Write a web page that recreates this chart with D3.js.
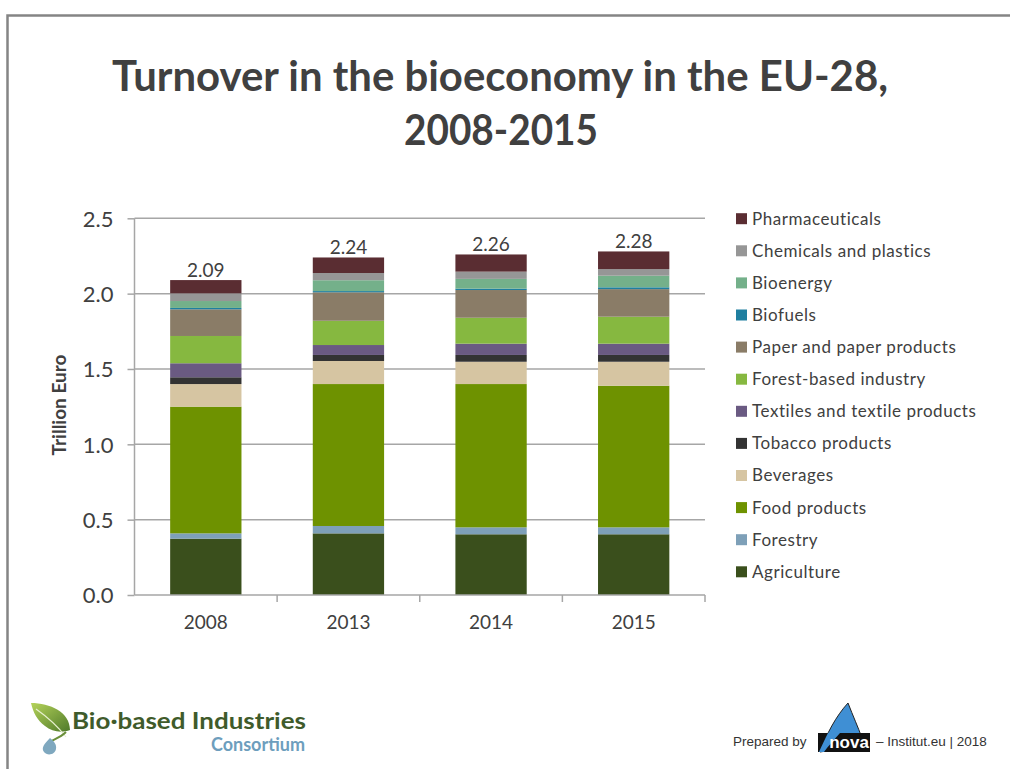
<!DOCTYPE html>
<html>
<head>
<meta charset="utf-8">
<script src="https://cdn.jsdelivr.net/npm/d3@7"></script>
<style>
  body { margin: 0; background: #fff; }
  svg { display: block; font-family: Lato, "Open Sans", sans-serif; }
</style>
</head>
<body>
<div class="js-vis"></div>
<script>
"use strict";

// Data (trillion euro)
var years = ["2008", "2013", "2014", "2015"];
var sectors = ["Agriculture", "Forestry", "Food products", "Beverages", "Tobacco products",
  "Textiles and textile products", "Forest-based industry", "Paper and paper products",
  "Biofuels", "Bioenergy", "Chemicals and plastics", "Pharmaceuticals"];
var agriculture = [0.374, 0.409, 0.403, 0.403],
    forestry = [0.035, 0.049, 0.046, 0.046],
    food = [0.841, 0.942, 0.951, 0.940],
    beverages = [0.150, 0.153, 0.148, 0.159],
    tobacco = [0.045, 0.040, 0.045, 0.045],
    textiles = [0.093, 0.066, 0.075, 0.075],
    forestBased = [0.181, 0.161, 0.172, 0.179],
    paper = [0.177, 0.189, 0.184, 0.183],
    biofuels = [0.009, 0.008, 0.009, 0.012],
    bioenergy = [0.046, 0.072, 0.065, 0.077],
    chemicals = [0.051, 0.048, 0.048, 0.044],
    pharma = [0.088, 0.103, 0.114, 0.117];
var colors = ["#3a4f1c", "#7ea0b8", "#6e9200", "#d6c5a2", "#333333", "#6a5a82",
  "#86b840", "#8a7c67", "#1f7fa0", "#74b08a", "#969696", "#5a2d32"];
var yTicks = [0, 0.5, 1.0, 1.5, 2.0, 2.5];

var seriesValues = [agriculture, forestry, food, beverages, tobacco, textiles,
  forestBased, paper, biofuels, bioenergy, chemicals, pharma];

var table = years.map(function (y, i) {
  var row = { year: y };
  sectors.forEach(function (s, k) { row[s] = seriesValues[k][i]; });
  return row;
});

var W = 1010, H = 769;
var svg = d3.select(".js-vis").append("svg").attr("width", W).attr("height", H);

// frame
svg.append("path").attr("d", "M7.5,769V15.5H1010")
  .attr("fill", "none").attr("stroke", "#858585").attr("stroke-width", 2.5);

// title
var title = svg.append("g").attr("fill", "#404040").attr("font-weight", 700)
  .attr("font-size", 42).attr("text-anchor", "middle");
title.append("text").attr("x", 500).attr("y", 91).attr("textLength", 776)
  .attr("lengthAdjust", "spacingAndGlyphs").text("Turnover in the bioeconomy in the EU-28,");
title.append("text").attr("x", 501).attr("y", 145).attr("textLength", 194)
  .attr("lengthAdjust", "spacingAndGlyphs").text("2008-2015");

var x = d3.scaleBand().domain(years).range([134.5, 705]).paddingInner(0.5).paddingOuter(0.25);
var y = d3.scaleLinear().domain([0, 2.5]).range([595, 218.3]);

// gridlines
svg.append("g").selectAll("line").data(yTicks.slice(1)).enter().append("line")
  .attr("x1", 134.5).attr("x2", 705)
  .attr("y1", function (d) { return y(d); }).attr("y2", function (d) { return y(d); })
  .attr("stroke", "#a6a6a6").attr("stroke-width", 1.5);

var stack = d3.stack().keys(sectors);
var layers = stack(table);

svg.append("g").selectAll("g").data(layers).enter().append("g")
  .attr("fill", function (d, i) { return colors[i]; })
  .selectAll("rect").data(function (d) { return d; }).enter().append("rect")
  .attr("x", function (d) { return x(d.data.year); })
  .attr("width", x.bandwidth())
  .attr("y", function (d) { return y(d[1]); })
  .attr("height", function (d) { return y(d[0]) - y(d[1]); });

// y axis
var yax = d3.axisLeft(y).tickValues(yTicks).tickFormat(d3.format(".1f")).tickSize(7).tickPadding(14);
var gy = svg.append("g").attr("transform", "translate(134.5,0)").call(yax);
gy.select(".domain").attr("stroke", "#a6a6a6").attr("stroke-width", 1.5).attr("d", "M0,218.3V595");
gy.selectAll(".tick line").attr("stroke", "#a6a6a6").attr("stroke-width", 1.5);
gy.selectAll(".tick text").attr("fill", "#404040").attr("font-size", 22)
  .attr("font-family", "Lato, sans-serif").attr("dy", "0.36em");

// x axis with tick marks at band boundaries
var gx = svg.append("g").attr("transform", "translate(0,595)");
gx.append("line").attr("x1", 134.5).attr("x2", 705).attr("stroke", "#a6a6a6").attr("stroke-width", 1.5);
gx.selectAll(".bt").data(years).enter().append("line")
  .attr("x1", function (d) { return x(d) + x.bandwidth() * 1.5; })
  .attr("x2", function (d) { return x(d) + x.bandwidth() * 1.5; })
  .attr("y1", 0).attr("y2", 7).attr("stroke", "#a6a6a6").attr("stroke-width", 1.5);
gx.selectAll("text").data(years).enter().append("text")
  .attr("x", function (d) { return x(d) + x.bandwidth() / 2; })
  .attr("y", 34).attr("text-anchor", "middle").attr("font-size", 19).attr("fill", "#404040")
  .text(function (d) { return d; });

// totals above bars
var totals = table.map(function (r) { return d3.sum(sectors, function (s) { return r[s]; }); });
svg.append("g").selectAll("text").data(years).enter().append("text")
  .attr("x", function (d) { return x(d) + x.bandwidth() / 2; })
  .attr("y", function (d, i) { return y(totals[i]) - 3; })
  .attr("text-anchor", "middle").attr("font-size", 19).attr("fill", "#404040")
  .text(function (d, i) { return d3.format(".2f")(totals[i]); });

// y title
svg.append("text").attr("transform", "translate(66,405) rotate(-90)")
  .attr("text-anchor", "middle").attr("font-size", 19).attr("font-weight", 700)
  .attr("fill", "#404040").text("Trillion Euro");

// legend (reverse order, top = Pharmaceuticals)
var legendItems = sectors.map(function (s, i) { return { name: s, color: colors[i] }; }).reverse();
var lg = svg.append("g").selectAll("g").data(legendItems).enter().append("g")
  .attr("transform", function (d, i) { return "translate(736," + (218.7 + i * 32.1) + ")"; });
lg.append("rect").attr("x", 0).attr("y", -5.5).attr("width", 11).attr("height", 11)
  .attr("fill", function (d) { return d.color; });
lg.append("text").attr("x", 16).attr("y", 0).attr("dy", "0.35em").attr("font-size", 17)
  .attr("fill", "#404040").attr("letter-spacing", 0.55).text(function (d) { return d.name; });

// footer: Bio-based Industries Consortium logo
var logo = svg.append("g");
var leafGrad = svg.append("defs").append("linearGradient").attr("id", "leafg")
  .attr("x1", 0).attr("y1", 0).attr("x2", 1).attr("y2", 1);
leafGrad.append("stop").attr("offset", "0%").attr("stop-color", "#b5d35a");
leafGrad.append("stop").attr("offset", "100%").attr("stop-color", "#4f7a2a");
logo.append("path")
  .attr("d", "M31,703 C50,703 70,712 70,730 C62,733 52,732 45,726 C37,720 33,712 31,703 Z")
  .attr("fill", "url(#leafg)");
logo.append("path").attr("d", "M36,709 C46,716 56,724 66,737")
  .attr("fill", "none").attr("stroke", "#e8f0d0").attr("stroke-width", 1.2);
logo.append("path").attr("d", "M66,732 C60,738 52,740 50,742")
  .attr("fill", "none").attr("stroke", "#6a8f3a").attr("stroke-width", 2);
logo.append("path").attr("d", "M50,738 C44,744 41,748 44,752 C47,756 55,755 56,749 C57,745 54,741 50,738 Z")
  .attr("fill", "#7fa8bf");
logo.append("text").attr("x", 72).attr("y", 729).attr("font-size", 22).attr("font-weight", 700)
  .attr("fill", "#3f5b2b").attr("textLength", 234).attr("lengthAdjust", "spacingAndGlyphs")
  .text("Bio·based Industries");
logo.append("text").attr("x", 305).attr("y", 751).attr("text-anchor", "end").attr("font-size", 18)
  .attr("font-weight", 700).attr("fill", "#6d9ebd").text("Consortium");

// footer: Prepared by nova
var nova = svg.append("g").attr("font-family", "'Liberation Sans', Arial, sans-serif");
nova.append("text").attr("x", 733).attr("y", 746).attr("font-size", 13.5).attr("fill", "#333")
  .text("Prepared by");
nova.append("path").attr("d", "M820,752 C826,735 836,716 848,703 C853,716 858,727 862,738 L862,745 L820,752 Z")
  .attr("fill", "#3f8fd4").attr("stroke", "#222").attr("stroke-width", 1);
nova.append("rect").attr("x", 818).attr("y", 733).attr("width", 52).attr("height", 19).attr("fill", "#111");
nova.append("path").attr("d", "M819,752 C822,745 825,739 828,733 L840,733 C834,740 828,746 824,752 Z")
  .attr("fill", "#3f8fd4");
nova.append("text").attr("x", 849).attr("y", 748).attr("text-anchor", "middle").attr("font-size", 17)
  .attr("font-weight", 700).attr("fill", "#fff").text("nova");
nova.append("text").attr("x", 876).attr("y", 746).attr("font-size", 13.5).attr("fill", "#333")
  .text("– Institut.eu | 2018");
</script>
</body>
</html>
